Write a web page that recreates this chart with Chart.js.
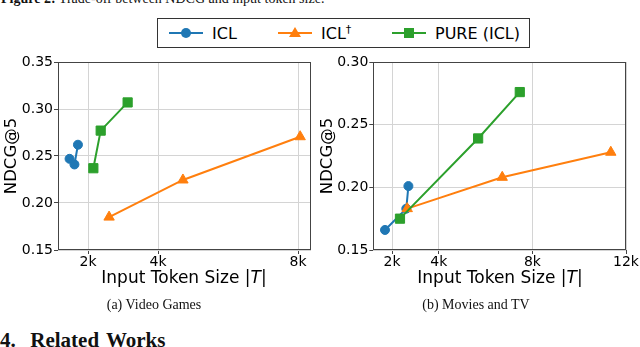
<!DOCTYPE html>
<html>
<head>
<meta charset="utf-8">
<script src="https://cdn.jsdelivr.net/npm/chart.js@4.4.1/dist/chart.umd.min.js"></script>
<style>
  body { margin: 0; width: 640px; height: 347px; background: #fff; position: relative; overflow: hidden; }
  canvas { position: absolute; }
  .serif { position: absolute; font-family: "Liberation Serif", serif; color: #111; white-space: nowrap; }
  .xtitle { position: absolute; font-family: "DejaVu Sans", sans-serif; font-size: 17px; color: #000; white-space: nowrap; transform: translate(-50%, -50%); }
  #legend { position: absolute; left: 157px; top: 18px; width: 371px; height: 28px; border: 1px solid #333; background: #fff; }
  .item { position: absolute; top: 0; height: 28px; display: flex; align-items: center; font-family: "DejaVu Sans", sans-serif; font-size: 16px; }
  .sym { position: relative; width: 34px; height: 2px; margin-right: 9px; }
  .mk { position: absolute; left: 50%; top: 50%; transform: translate(-50%, -50%); }
  sup { font-size: 11px; vertical-align: 6px; line-height: 0; }
</style>
</head>
<body>
<div class="serif" style="left:1px; top:-9px; font-size:14px;"><b>Figure 2:</b> Trade-off between NDCG and input token size.</div>
<div id="legend"></div>
<canvas id="vg" width="320" height="250" style="left:0; top:50px;"></canvas>
<canvas id="mt" width="324" height="250" style="left:316px; top:50px;"></canvas>
<div class="xtitle" style="left:184px; top:277px;">Input Token Size |<i>T</i>|</div>
<div class="xtitle" style="left:500px; top:277px;">Input Token Size |<i>T</i>|</div>
<div class="serif" style="left:154px; top:305px; font-size:14px; transform:translate(-50%,-50%);">(a) Video Games</div>
<div class="serif" style="left:476px; top:305px; font-size:14px; transform:translate(-50%,-50%);">(b) Movies and TV</div>
<div class="serif" style="left:0; top:328px; font-size:21px; font-weight:bold; word-spacing:2px;">4.&nbsp; Related Works</div>
<script>
const seriesNames = ['ICL', 'ICL†', 'PURE (ICL)'];
const seriesColors = ['#1f77b4', '#ff7f0e', '#2ca02c'];
const seriesMarkers = ['circle', 'triangle', 'rect'];

// (a) Video Games
const vgIclTokens = [1470, 1610, 1710];
const vgIclNdcg = [0.247, 0.241, 0.262];
const vgIclDagTokens = [2600, 4710, 8060];
const vgIclDagNdcg = [0.185, 0.2245, 0.2705];
const vgPureTokens = [2150, 2360, 3130];
const vgPureNdcg = [0.237, 0.277, 0.307];
const vgXTicks = [2000, 4000, 8000];
const vgYTicks = [0.15, 0.20, 0.25, 0.30, 0.35];

// (b) Movies and TV
const mtIclTokens = [1700, 2610, 2700];
const mtIclNdcg = [0.166, 0.183, 0.201];
const mtIclDagTokens = [2650, 6710, 11350];
const mtIclDagNdcg = [0.183, 0.208, 0.228];
const mtPureTokens = [2340, 5680, 7460];
const mtPureNdcg = [0.175, 0.239, 0.276];
const mtXTicks = [2000, 4000, 8000, 12000];
const mtYTicks = [0.15, 0.20, 0.25, 0.30];

const radii = { circle: 4.5, triangle: 6, rect: 6.5 };

// legend built from the series lists
const legend = document.getElementById('legend');
const itemLeft = [11, 120, 234];
seriesNames.forEach((name, i) => {
  const it = document.createElement('div');
  it.className = 'item';
  it.style.left = itemLeft[i] + 'px';
  const sym = document.createElement('span');
  sym.className = 'sym';
  sym.style.background = seriesColors[i];
  const mk = document.createElement('span');
  mk.className = 'mk';
  if (seriesMarkers[i] === 'circle') {
    mk.style.cssText += 'width:10px;height:10px;border-radius:50%;background:' + seriesColors[i];
  } else if (seriesMarkers[i] === 'rect') {
    mk.style.cssText += 'width:10px;height:10px;background:' + seriesColors[i];
  } else {
    mk.style.cssText += 'width:0;height:0;border-left:6px solid transparent;border-right:6px solid transparent;border-bottom:10px solid ' + seriesColors[i] + ';margin-top:-1px';
  }
  sym.appendChild(mk);
  it.appendChild(sym);
  const txt = document.createElement('span');
  if (name.endsWith('†')) {
    txt.innerHTML = name.slice(0, -1) + '<sup>†</sup>';
  } else {
    txt.textContent = name;
  }
  it.appendChild(txt);
  legend.appendChild(it);
});

const frame = {
  id: 'frame',
  afterDatasetsDraw(chart) {
    const a = chart.chartArea, c = chart.ctx;
    c.save();
    c.strokeStyle = '#444';
    c.lineWidth = 1;
    c.strokeRect(Math.round(a.left) + 0.5, Math.round(a.top) + 0.5,
      Math.round(a.right - a.left) - 1, Math.round(a.bottom - a.top) - 1);
    c.restore();
  }
};

function points(xs, ys) {
  return xs.map((x, i) => ({ x: x, y: ys[i] }));
}

function makeChart(id, series, xTicks, yTicks, xMin, xMax, yWidth, pad) {
  const tickFont = { family: 'DejaVu Sans', size: 14 };
  return new Chart(document.getElementById(id), {
    type: 'scatter',
    data: {
      datasets: series.map((s, i) => ({
        label: seriesNames[i],
        data: points(s[0], s[1]),
        showLine: true,
        borderColor: seriesColors[i],
        backgroundColor: seriesColors[i],
        borderWidth: 2,
        pointStyle: seriesMarkers[i],
        pointRadius: radii[seriesMarkers[i]],
        pointBorderWidth: 1,
        order: 3 - i
      }))
    },
    options: {
      responsive: false,
      animation: false,
      layout: { padding: pad },
      plugins: { legend: { display: false }, tooltip: { enabled: false } },
      scales: {
        x: {
          type: 'linear',
          min: xMin,
          max: xMax,
          afterBuildTicks: s => { s.ticks = xTicks.map(v => ({ value: v })); },
          afterFit: s => { s.height = 20; },
          ticks: { autoSkip: false, maxRotation: 0, padding: 0, color: '#000', font: tickFont,
            callback: v => (v / 1000) + 'k' },
          grid: { color: '#d4d4d4', tickColor: '#444', tickLength: 4 },
          border: { display: false }
        },
        y: {
          min: yTicks[0],
          max: yTicks[yTicks.length - 1],
          afterBuildTicks: s => { s.ticks = yTicks.map(v => ({ value: v })); },
          afterFit: s => { s.width = yWidth; },
          ticks: { autoSkip: false, padding: 1, color: '#000', font: tickFont,
            callback: v => v.toFixed(2) },
          grid: { color: '#d4d4d4', tickColor: '#444', tickLength: 4 },
          border: { display: false },
          title: { display: true, text: 'NDCG@5', color: '#000',
            font: { family: 'DejaVu Sans', size: 16.5 }, padding: { top: 1.5, bottom: 0 } }
        }
      }
    },
    plugins: [frame]
  });
}

makeChart('vg', [[vgIclTokens, vgIclNdcg], [vgIclDagTokens, vgIclDagNdcg], [vgPureTokens, vgPureNdcg]],
  vgXTicks, vgYTicks, 1140, 8370, 58, { top: 12, right: 9, bottom: 30, left: 0 });
makeChart('mt', [[mtIclTokens, mtIclNdcg], [mtIclDagTokens, mtIclDagNdcg], [mtPureTokens, mtPureNdcg]],
  mtXTicks, mtYTicks, 1200, 12000, 57.3, { top: 12, right: 14, bottom: 30, left: 0 });
</script>
</body>
</html>
